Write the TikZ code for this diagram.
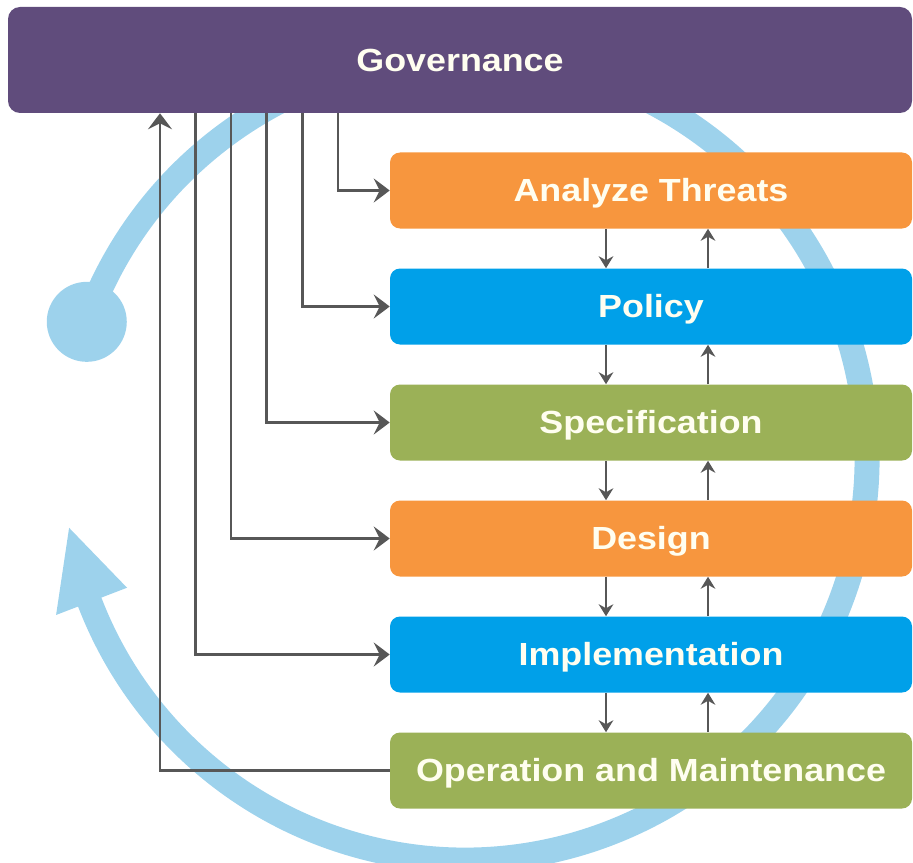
\documentclass[tikz,border=0pt]{standalone}
\usepackage{fontspec}
\newfontfamily\labelfont{Liberation Sans}[FakeStretch=1.12]
\usetikzlibrary{arrows.meta}
\definecolor{govpurple}{HTML}{604C7C}
\definecolor{stageorange}{HTML}{F7963E}
\definecolor{stageblue}{HTML}{00A0E9}
\definecolor{stagegreen}{HTML}{9BB157}
\definecolor{cycleblue}{HTML}{9DD2EC}
\definecolor{linkgray}{HTML}{575757}
\definecolor{labelwhite}{HTML}{FFFEF0}

\begin{document}
\begin{tikzpicture}[x=0.75pt,y=-0.75pt,
  labeltext/.style={text=labelwhite, font=\labelfont\bfseries\fontsize{24}{28}\selectfont,
    text height=17.2pt, text depth=0pt, inner sep=0pt},
  govbox/.style={labeltext, fill=govpurple, rounded corners=9pt,
    minimum width=678pt, minimum height=79.5pt},
  stagebox/.style={labeltext, fill=#1, rounded corners=7.5pt,
    minimum width=391.5pt, minimum height=57pt},
  feed/.style={draw=linkgray, line width=1.9pt, -{Stealth[length=12pt,width=18pt,inset=4.5pt]}},
  flow/.style={draw=linkgray, line width=1.5pt, -{Stealth[length=9pt,width=11pt,inset=3pt]}},
  cyclebelt/.style={draw=cycleblue, line width=18.75pt}]

\useasboundingbox (0,0) rectangle (913,863);

% the continuous improvement cycle behind the stages
\coordinate (hub) at (465,458);
\draw[cyclebelt] ([shift={(-160.2:402)}]hub) arc[start angle=-160.2, end angle=159.5, radius=402];
\fill[cycleblue] ([shift={(159:438)}]hub) -- ([shift={(170:402)}]hub) -- ([shift={(159:362)}]hub) -- cycle;
\fill[cycleblue] ([shift={(-160.2:402)}]hub) circle[radius=40];

% governance bar and lifecycle stages
\node[govbox] (gov) at (460,60) {Governance};
\node[stagebox=stageorange] (threats)   at (651,190.5) {Analyze Threats};
\node[stagebox=stageblue]   (policy)    at (651,306.5) {Policy};
\node[stagebox=stagegreen]  (spec)      at (651,422.5) {Specification};
\node[stagebox=stageorange] (design)    at (651,538.5) {Design};
\node[stagebox=stageblue]   (impl)      at (651,654.5) {Implementation};
\node[stagebox=stagegreen]  (operation) at (651,770.5) {Operation and Maintenance};

% vertical lanes of the governance links
\coordinate (lane0) at (160,0);
\coordinate (lane1) at (195.5,0);
\coordinate (lane2) at (231,0);
\coordinate (lane3) at (266.5,0);
\coordinate (lane4) at (302.5,0);
\coordinate (lane5) at (338,0);

\draw[feed] (gov.south -| lane5) |- (threats.west);
\draw[feed] (gov.south -| lane4) |- (policy.west);
\draw[feed] (gov.south -| lane3) |- (spec.west);
\draw[feed] (gov.south -| lane2) |- (design.west);
\draw[feed] (gov.south -| lane1) |- (impl.west);
\draw[feed] (operation.west) -| (gov.south -| lane0);

% hand-offs between neighbouring stages
\coordinate (downlane) at (606,0);
\coordinate (uplane) at (708,0);
\foreach \upper/\lower in {threats/policy, policy/spec, spec/design, design/impl, impl/operation}{
  \draw[flow] (\upper.south -| downlane) -- (\lower.north -| downlane);
  \draw[flow] (\lower.north -| uplane) -- (\upper.south -| uplane);
}
\end{tikzpicture}
\end{document}
